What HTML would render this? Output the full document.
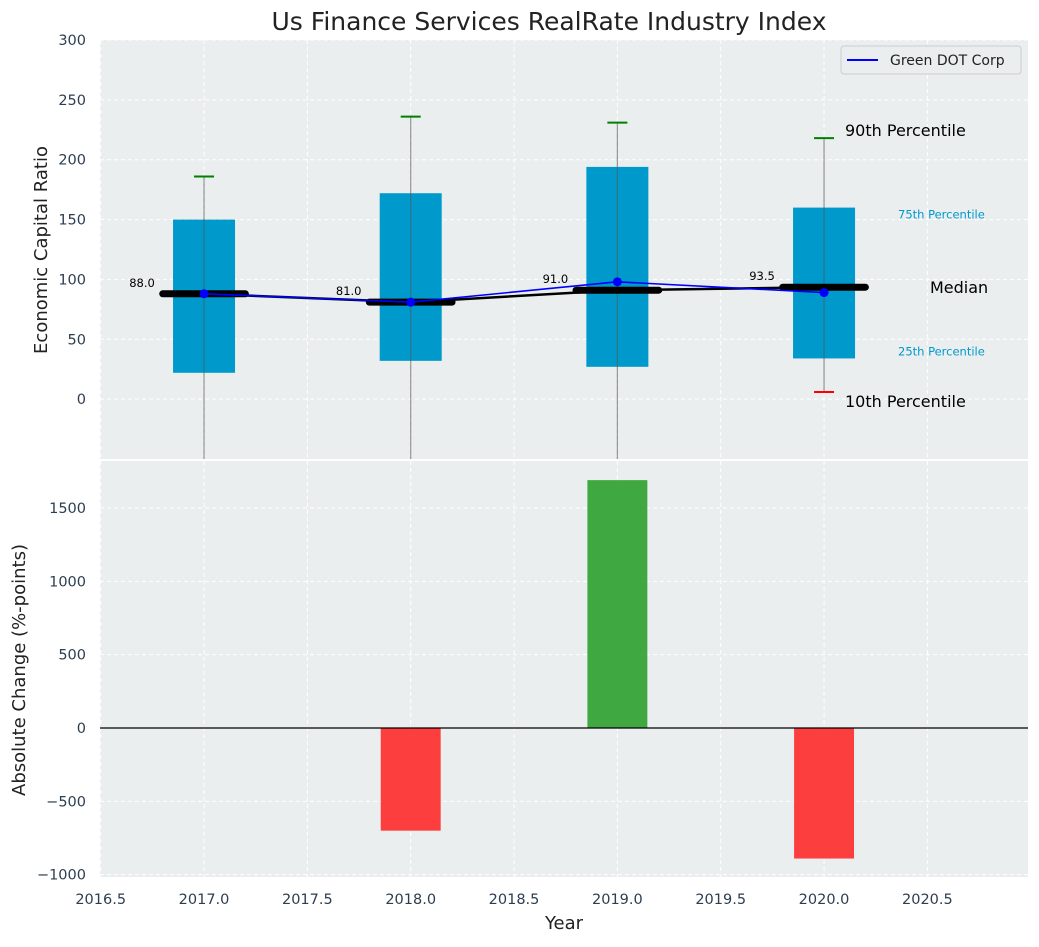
<!DOCTYPE html>
<html><head><meta charset="utf-8"><style>
body{margin:0;background:#fff;font-family:"Liberation Sans","DejaVu Sans",sans-serif}
svg text{font-family:"DejaVu Sans","Liberation Sans",sans-serif}
</style></head><body>
<svg id="c" width="1039" height="942"></svg>
<script>
const years=[2017,2018,2019,2020];
const q25=[22,32,27,34];
const q75=[150,172,194,160];
const p90=[186,236,231,218];
const p10=[-80,-80,-80,6];
const medians=[88,81,91,93.5];
const company=[88,81,98,89];
const changes=[0,-700,1690,-890];
const xTicks=[2016.5,2017,2017.5,2018,2018.5,2019,2019.5,2020,2020.5];
const yTopTicks=[0,50,100,150,200,250,300];
const yBotTicks=[-1000,-500,0,500,1000,1500];
const NS="http://www.w3.org/2000/svg";
const svg=document.getElementById('c');
const L=100,R=1028,T1=40,B1=459,T2=459,B2=877;
const x=v=>L+0.7+(v-2016.5)*206.67;
const y1=v=>T1+(300-v)/(350)*(B1-T1);
const y2=v=>728-v*(220/1500);
function el(t,a,p){const e=document.createElementNS(NS,t);for(const k in a)e.setAttribute(k,a[k]);(p||svg).appendChild(e);return e;}
function txt(s,a,p){const e=el('text',a,p);e.textContent=s;return e;}
let bg=el('rect',{x:L,y:T1,width:R-L,height:B1-T1,fill:'#eaeeef'});

let bg2=el('rect',{x:L,y:T2+2,width:R-L,height:B2-T2-2,fill:'#eaeeef'});

xTicks.forEach(v=>{
  el('line',{x1:x(v),x2:x(v),y1:T1,y2:B1,stroke:'#fff','stroke-dasharray':'4,3'});
  el('line',{x1:x(v),x2:x(v),y1:T2+2,y2:B2,stroke:'#fff','stroke-dasharray':'4,3'});
  const t=txt(v.toFixed(1),{x:x(v),y:904,'text-anchor':'middle','font-size':14.5,fill:'#2d3e50'});
  
});
yTopTicks.forEach(v=>{
  el('line',{x1:L,x2:R,y1:y1(v),y2:y1(v),stroke:'#fff','stroke-dasharray':'4,3'});
  const t=txt(String(v),{x:L-14,y:y1(v)+5,'text-anchor':'end','font-size':14.5,fill:'#2d3e50'});
  
});
yBotTicks.forEach(v=>{
  el('line',{x1:L,x2:R,y1:y2(v),y2:y2(v),stroke:'#fff','stroke-dasharray':'4,3'});
  const t=txt(String(v).replace('-','−'),{x:L-14,y:y2(v)+5,'text-anchor':'end','font-size':14.5,fill:'#2d3e50'});
  
});
const clip=el('clipPath',{id:'cp'});el('rect',{x:L,y:T1,width:R-L,height:B1-T1},clip);
const g=el('g',{'clip-path':'url(#cp)'});
years.forEach((yr,i)=>{
  const b=el('rect',{x:x(yr-0.15),y:y1(q75[i]),width:x(yr+0.15)-x(yr-0.15),height:y1(q25[i])-y1(q75[i]),fill:'#0099cc'},g);
  
  el('line',{x1:x(yr),x2:x(yr),y1:y1(p90[i]),y2:y1(p10[i]),stroke:'#555','stroke-opacity':0.6,'stroke-width':1.2},g);
  const c=el('line',{x1:x(yr)-10,x2:x(yr)+10,y1:y1(p90[i]),y2:y1(p90[i]),stroke:'green','stroke-width':2},g);
  
  if(p10[i]>-50){const c2=el('line',{x1:x(yr)-10,x2:x(yr)+10,y1:y1(p10[i]),y2:y1(p10[i]),stroke:'red','stroke-width':2},g);
  }
});
let mp=years.map((yr,i)=>x(yr)+','+y1(medians[i])).join(' ');
el('polyline',{points:mp,fill:'none',stroke:'#000','stroke-width':2.5},g);
years.forEach((yr,i)=>{
  const m=el('line',{x1:x(yr-0.2),x2:x(yr+0.2),y1:y1(medians[i]),y2:y1(medians[i]),stroke:'#000','stroke-width':7,'stroke-linecap':'round'},g);
  
  const t=txt(medians[i].toFixed(1),{x:x(yr-0.3),y:y1(medians[i])-7,'text-anchor':'middle','font-size':11.5,fill:'#000'});
  
});
let cpnts=years.map((yr,i)=>x(yr)+','+y1(company[i])).join(' ');
const cl=el('polyline',{points:cpnts,fill:'none',stroke:'blue','stroke-width':1.6},g);

years.forEach((yr,i)=>{const d=el('circle',{cx:x(yr),cy:y1(company[i]),r:4.5,fill:'blue'},g);
});
const yl=years.length-1;
[['90th Percentile',845,y1(p90[yl])-2,16,'#000'],['75th Percentile',898,y1(q75[yl])+11,11.5,'#0099cc'],['Median',930,y1(medians[yl])+6,16,'#000'],['25th Percentile',898,y1(q25[yl])-3,11.5,'#0099cc'],['10th Percentile',845,y1(p10[yl])+15,16,'#000']].forEach(a=>{
  const t=txt(a[0],{x:a[1],y:a[2],'font-size':a[3],fill:a[4]});
});
const lg=el('g',{});
el('rect',{x:841,y:46,width:180,height:28,rx:3,fill:'#eaeeef',stroke:'#ccc'},lg);
el('line',{x1:847,x2:878,y1:60,y2:60,stroke:'blue','stroke-width':2},lg);
txt('Green DOT Corp',{x:890,y:65,'font-size':14,fill:'#222'},lg);
years.forEach((yr,i)=>{
  const v=changes[i];if(!v)return;
  const b=el('rect',{x:x(yr-0.145),y:Math.min(y2(v),y2(0)),width:x(yr+0.145)-x(yr-0.145),height:Math.abs(y2(v)-y2(0)),fill:v>0?'#2ca02c':'#ff2a2a','fill-opacity':0.9});
  
});
el('line',{x1:L,x2:R,y1:y2(0),y2:y2(0),stroke:'#000','stroke-width':1.2});
let t=txt('Us Finance Services RealRate Industry Index',{x:549,y:30,'text-anchor':'middle','font-size':25,fill:'#222'});

t=txt('Economic Capital Ratio',{x:47,y:250,'text-anchor':'middle','font-size':18,fill:'#222',transform:'rotate(-90 47 250)'});

t=txt('Absolute Change (%-points)',{x:25,y:670,'text-anchor':'middle','font-size':18,fill:'#222',transform:'rotate(-90 25 670)'});

t=txt('Year',{x:564,y:929,'text-anchor':'middle','font-size':18,fill:'#222'});

</script>
</body></html>
